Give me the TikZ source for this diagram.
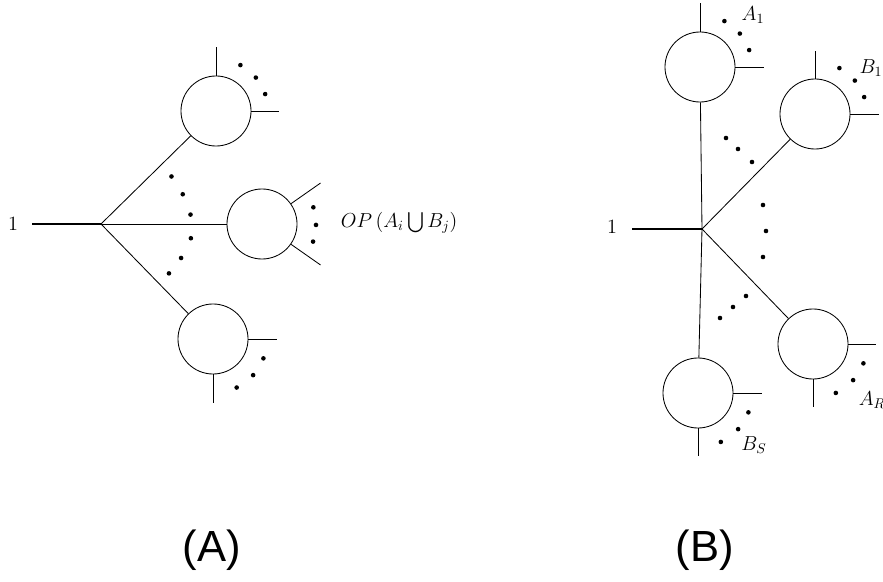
\documentclass[tikz,border=0pt]{standalone}
\usepackage{amsmath}
\usepackage{fontspec}
\newfontfamily\capfont{Liberation Sans}
\usetikzlibrary{positioning}

\begin{document}
\begin{tikzpicture}[
    x=0.025cm, y=0.025cm,
    every node/.style={font=\fontsize{14.4}{17}\selectfont},
    blob/.style={draw, circle, minimum size=1.75cm, inner sep=0pt, line width=0.6pt},
    leg/.style={line width=0.6pt},
    inleg/.style={line width=2pt},
    caption/.style={font=\capfont\fontsize{31}{36}\selectfont},
    dot/.style={fill=black},
]
\useasboundingbox (0,0) rectangle (883,581);

% Left diagram (A)
\coordinate (va) at (101,357);
\coordinate (ina) at (32,357);
\node (onea) at (13,357) {$1$};
\node[blob] (ta) at (216,470) {};
\node[blob] (ma) at (262,357) {};
\node[blob] (ba) at (213,242) {};

\draw[inleg] (ina) -- (va);
\draw[leg] (va) -- (ta);
\draw[leg] (va) -- (ma);
\draw[leg] (va) -- (ba);

\draw[leg] (ta.north) -- ++(0,29);
\draw[leg] (ta.east) -- ++(28,0);
\draw[leg] (ma.35) -- ++(35:36);
\draw[leg] (ma.-35) -- ++(-35:36);
\draw[leg] (ba.east) -- ++(29,0);
\draw[leg] (ba.south) -- ++(0,-29);

\node[anchor=west] (opa) at (336,358) {$OP\,(A_i\bigcup B_j)$};

\foreach \a in {19,40,62} \fill[dot] (ta) ++(\a:52) circle (2.3);
\foreach \a in {18,-1,-19} \fill[dot] (ma) ++(\a:54) circle (2.3);
\foreach \a in {-21,-42,-64} \fill[dot] (ba) ++(\a:54) circle (2.3);
\foreach \a/\r in {34/85,20/87,6/90,-9/91,-23/87,-36/84}
    \fill[dot] (va) ++(\a:\r) circle (2.3);

% Right diagram (B)
\coordinate (vb) at (702,352);
\coordinate (inb) at (632,352);
\node (oneb) at (612,354) {$1$};
\node[blob] (a1) at (700,514) {};
\node[blob] (b1) at (815,467) {};
\node[blob] (ar) at (813,237) {};
\node[blob] (bs) at (698,188) {};

\draw[inleg] (inb) -- (vb);
\draw[leg] (vb) -- (a1);
\draw[leg] (vb) -- (b1);
\draw[leg] (vb) -- (ar);
\draw[leg] (vb) -- (bs);

\draw[leg] (a1.north) -- ++(0,29);
\draw[leg] (a1.east) -- ++(29,0);
\draw[leg] (b1.north) -- ++(0,28);
\draw[leg] (b1.east) -- ++(29,0);
\draw[leg] (ar.east) -- ++(28,0);
\draw[leg] (ar.south) -- ++(0,-28);
\draw[leg] (bs.east) -- ++(29,0);
\draw[leg] (bs.south) -- ++(0,-28);

\foreach \n in {a1,b1} {
    \foreach \a in {19,40,62} \fill[dot] (\n) ++(\a:52) circle (2.3);
}
\foreach \n in {ar,bs} {
    \foreach \a in {-21,-42,-65} \fill[dot] (\n) ++(\a:54) circle (2.3);
}
\foreach \p in {(726,443),(738,432),(752,419),
                (763,376),(766,350),(763,324),
                (746,285),(733,274),(720,263)}
    \fill[dot] \p circle (2.3);

\node (la1) at (753,566) {$A_1$};
\node (lb1) at (871,513) {$B_1$};
\node (lar) at (872,181) {$A_R$};
\node (lbs) at (754,136) {$B_S$};

% Captions
\node[caption] (capa) at (212,31) {(A)};
\node[caption] (capb) at (705,31) {(B)};
\end{tikzpicture}
\end{document}
